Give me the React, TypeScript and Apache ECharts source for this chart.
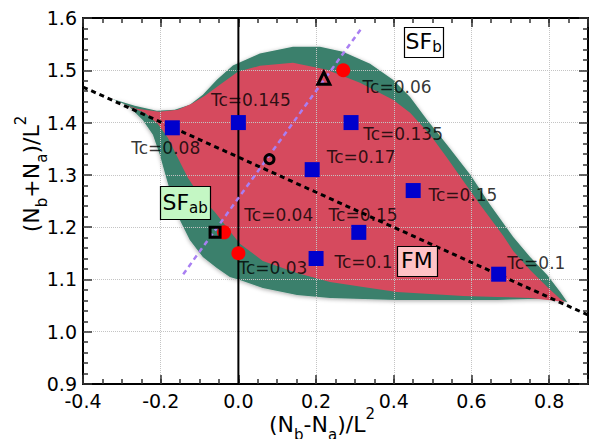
import React, { useEffect, useRef } from 'react';
import * as echarts from 'echarts';

const FONT = "'DejaVu Sans', Verdana, sans-serif";

// axis ranges
const xMin = -0.4;
const xMax = 0.9;
const yMin = 0.9;
const yMax = 1.6;

// blue squares (Tc points)
const squareX = [-0.17, 0.0, 0.29, 0.19, 0.45, 0.31, 0.2, 0.67];
const squareY = [1.39, 1.4, 1.4, 1.31, 1.27, 1.19, 1.14, 1.11];

// red circles
const circleX = [0.27, 0.0, -0.037];
const circleY = [1.5, 1.15, 1.19];

// open black markers
const openTriangle: [number, number][] = [[0.22, 1.485]];
const openCircle: [number, number][] = [[0.08, 1.33]];
const openSquare: [number, number][] = [[-0.06, 1.19]];

// reference lines
const dottedLine: [number, number][] = [[-0.4, 1.468], [0.9, 1.032]];
const purpleLine: [number, number][] = [[-0.142, 1.11], [0.3175, 1.581]];
const zeroLine: [number, number][] = [[0, 0.9], [0, 1.6]];

// SF (outer, green) region boundary
const sfBoundary: [number, number][] = [
  [-0.326, 1.4455], [-0.267, 1.432], [-0.21, 1.4225], [-0.164, 1.4245], [-0.125, 1.434],
  [-0.0915, 1.453], [-0.0554, 1.482], [-0.0142, 1.509], [0.0554, 1.532], [0.1405, 1.545],
  [0.21, 1.545], [0.269, 1.5355], [0.339, 1.5125], [0.398, 1.482], [0.442, 1.449],
  [0.486, 1.405], [0.537, 1.3575], [0.597, 1.3], [0.648, 1.2426], [0.7075, 1.181],
  [0.751, 1.143], [0.795, 1.1086], [0.8286, 1.076], [0.8466, 1.057],
  [0.803, 1.0627], [0.751, 1.0627], [0.666, 1.0608], [0.5786, 1.0608], [0.4936, 1.0608],
  [0.4085, 1.0608], [0.321, 1.0627], [0.236, 1.0646], [0.151, 1.0703], [0.063, 1.0837],
  [0.004, 1.099], [-0.022, 1.1048], [-0.0554, 1.122], [-0.0915, 1.143], [-0.125, 1.1756],
  [-0.151, 1.214], [-0.169, 1.252], [-0.184, 1.29], [-0.202, 1.338], [-0.22, 1.3766],
  [-0.246, 1.405], [-0.284, 1.432],
];

// FM (inner, red) region boundary
const fmBoundary: [number, number][] = [
  [-0.3, 1.436], [-0.2616, 1.4264], [-0.2036, 1.4206], [-0.156, 1.4245], [-0.12, 1.436],
  [-0.0863, 1.4513], [-0.0477, 1.4723], [-0.0013, 1.497], [0.0554, 1.5087], [0.1405, 1.5144],
  [0.228, 1.501], [0.313, 1.476], [0.398, 1.4436], [0.442, 1.4187], [0.4936, 1.3766],
  [0.537, 1.3326], [0.5786, 1.2885], [0.6224, 1.2426], [0.6817, 1.1833], [0.7075, 1.1545],
  [0.751, 1.118], [0.795, 1.0856], [0.8286, 1.0627], [0.8415, 1.057],
  [0.751, 1.0646], [0.666, 1.0665], [0.5786, 1.0684], [0.4936, 1.0722], [0.4085, 1.076],
  [0.321, 1.0856], [0.236, 1.0952], [0.151, 1.1124], [0.063, 1.1354], [0.004, 1.168],
  [-0.027, 1.197], [-0.0606, 1.2292], [-0.0992, 1.2598], [-0.13, 1.2943], [-0.156, 1.3326],
  [-0.1817, 1.3708], [-0.2075, 1.3976], [-0.241, 1.4187],
];

// Tc annotations (text and anchor in data coordinates)
const tcText = ['Tc=0.145', 'Tc=0.06', 'Tc=0.135', 'Tc=0.08', 'Tc=0.17', 'Tc=0.15', 'Tc=0.04', 'Tc=0.15', 'Tc=0.03', 'Tc=0.1', 'Tc=0.1'];
const tcTextX = [0.032, 0.4085, 0.424, -0.187, 0.316, 0.578, 0.104, 0.3209, 0.089, 0.322, 0.767];
const tcTextY = [1.444, 1.4685, 1.3785, 1.352, 1.3345, 1.262, 1.2225, 1.2225, 1.122, 1.1325, 1.131];

// phase boxes
const boxText = ['SF{sub|b}', 'SF{sub|ab}', 'FM'];
const boxX = [0.4768, -0.137, 0.4593];
const boxY = [1.5546, 1.2474, 1.1358];

// box styling (not data)
const BOX_FILL = ['#ffffff', '#c4f7c4', '#ffc2c6'];
const BOX_W = [39, 50, 40];
const BOX_H = [30, 33, 30];

const fmt = (v: number) => (Math.abs(v) < 1e-9 ? '0.0' : v.toFixed(1));

function polygonSeries(points: [number, number][], fill: string, extra: any) {
  return {
    type: 'custom',
    z: 1,
    silent: true,
    data: points,
    renderItem: (params: any, api: any) => {
      if (params.dataIndex !== 0) return null;
      const pts = points.map((p) => api.coord(p));
      return { type: 'polygon', shape: { points: pts }, style: { fill, ...extra } };
    },
  };
}

const tickStyle = { color: '#333', width: 1.5 };

function majorAxis(dim: 'x' | 'y', position: string, showLabel: boolean, showSplit: boolean) {
  const isX = dim === 'x';
  return {
    type: 'value',
    position,
    min: isX ? xMin : yMin,
    max: isX ? xMax : yMax,
    interval: isX ? 0.2 : 0.1,
    z: 3,
    axisLine: { show: true, onZero: false, lineStyle: { color: '#000', width: 2 } },
    axisTick: { show: true, inside: true, length: 9, lineStyle: tickStyle },
    minorTick: isX ? { show: false } : { show: true, splitNumber: 5, length: 5, lineStyle: tickStyle },
    axisLabel: {
      show: showLabel,
      fontSize: 19,
      fontFamily: FONT,
      color: '#000',
      margin: isX ? 7 : 6,
      showMaxLabel: isX ? false : true,
      formatter: fmt,
    },
    splitLine: { show: showSplit, lineStyle: { type: 'dotted', color: '#c4c4c4', width: 1 } },
  };
}

function minorXAxis(position: string) {
  return {
    type: 'value',
    position,
    min: xMin,
    max: xMax,
    interval: 0.05,
    z: 3,
    axisLine: { show: false, onZero: false },
    axisTick: { show: true, inside: true, length: 5, lineStyle: tickStyle },
    axisLabel: { show: false },
    splitLine: { show: false },
  };
}

export default function App() {
  const ref = useRef<HTMLDivElement>(null);

  useEffect(() => {
    document.body.style.margin = '0';
    const chart = echarts.init(ref.current as HTMLDivElement, null, { renderer: 'svg' });

    const subRich = {
      sub: { fontSize: 15, fontFamily: FONT, lineHeight: 16, verticalAlign: 'bottom' },
      sup: { fontSize: 15, fontFamily: FONT, lineHeight: 10, verticalAlign: 'top' },
    };

    const option: any = {
      animation: false,
      grid: { left: 83, right: 1, top: 18, bottom: 55, containLabel: false },
      xAxis: [majorAxis('x', 'bottom', true, true), minorXAxis('bottom'), majorAxis('x', 'top', false, false), minorXAxis('top')],
      yAxis: [majorAxis('y', 'left', true, true), majorAxis('y', 'right', false, false)],
      graphic: [
        {
          type: 'text',
          x: 322,
          y: 424,
          silent: true,
          style: {
            text: '(N{sub|b}-N{sub|a})/L{sup|2}',
            fontSize: 22,
            fontFamily: FONT,
            fill: '#000',
            lineHeight: 36,
            align: 'center',
            verticalAlign: 'middle',
            rich: subRich,
          },
        },
        {
          type: 'text',
          x: 31,
          y: 174,
          rotation: Math.PI / 2,
          silent: true,
          style: {
            text: '(N{sub|b}+N{sub|a})/L{sup|2}',
            fontSize: 22,
            fontFamily: FONT,
            fill: '#000',
            lineHeight: 36,
            align: 'center',
            verticalAlign: 'middle',
            rich: subRich,
          },
        },
      ],
      series: [
        polygonSeries(sfBoundary, '#3a806c', { shadowBlur: 4, shadowColor: 'rgba(0,0,0,0.35)', shadowOffsetY: 1 }),
        polygonSeries(fmBoundary, '#d64a5e', {}),
        {
          type: 'line',
          z: 4,
          silent: true,
          symbol: 'none',
          data: zeroLine,
          lineStyle: { color: '#000', width: 2 },
        },
        {
          type: 'line',
          z: 4,
          silent: true,
          symbol: 'none',
          data: purpleLine,
          lineStyle: { color: '#a97ff2', width: 2.5, type: [5, 4] },
        },
        {
          type: 'line',
          z: 4,
          silent: true,
          symbol: 'none',
          data: dottedLine,
          lineStyle: { color: '#000', width: 3, type: [5, 4] },
        },
        {
          type: 'scatter',
          z: 5,
          silent: true,
          symbol: 'rect',
          symbolSize: 15,
          itemStyle: { color: '#0000cd', opacity: 1 },
          data: squareX.map((x, i) => [x, squareY[i]]),
        },
        {
          type: 'scatter',
          z: 5,
          silent: true,
          symbol: 'circle',
          symbolSize: 14,
          itemStyle: { color: '#ff0000', opacity: 1 },
          data: circleX.map((x, i) => [x, circleY[i]]),
        },
        {
          type: 'scatter',
          z: 6,
          silent: true,
          symbol: 'triangle',
          symbolSize: 12,
          itemStyle: { color: 'rgba(0,0,0,0)', borderColor: '#000', borderWidth: 3, opacity: 1 },
          data: openTriangle,
        },
        {
          type: 'scatter',
          z: 6,
          silent: true,
          symbol: 'circle',
          symbolSize: 9,
          itemStyle: { color: 'rgba(0,0,0,0)', borderColor: '#000', borderWidth: 3, opacity: 1 },
          data: openCircle,
        },
        {
          type: 'scatter',
          z: 6,
          silent: true,
          symbol: 'rect',
          symbolSize: 10,
          itemStyle: { color: 'rgba(0,0,0,0)', borderColor: '#000', borderWidth: 3, opacity: 1 },
          data: openSquare,
        },
        {
          type: 'scatter',
          z: 7,
          silent: true,
          symbolSize: 1,
          itemStyle: { color: 'rgba(0,0,0,0)' },
          label: {
            show: true,
            position: 'inside',
            fontSize: 17,
            fontFamily: FONT,
            color: '#000',
            formatter: (p: any) => p.data.name,
          },
          data: tcText.map((t, i) => ({ name: t, value: [tcTextX[i], tcTextY[i]] })),
        },
        {
          type: 'custom',
          z: 8,
          silent: true,
          data: boxX.map((x, i) => [x, boxY[i]]),
          renderItem: (params: any, api: any) => {
            const i = params.dataIndex;
            const c = api.coord([api.value(0), api.value(1)]);
            const w = BOX_W[i];
            const h = BOX_H[i];
            return {
              type: 'group',
              children: [
                {
                  type: 'rect',
                  shape: { x: Math.round(c[0] - w / 2) + 0.5, y: Math.round(c[1] - h / 2) + 0.5, width: w, height: h },
                  style: { fill: BOX_FILL[i], stroke: '#000', lineWidth: 1.2 },
                },
                {
                  type: 'text',
                  style: {
                    text: boxText[i],
                    x: c[0],
                    y: c[1],
                    align: 'center',
                    verticalAlign: 'middle',
                    fontSize: 22,
                    fontFamily: FONT,
                    fill: '#000',
                    lineHeight: 26,
                    rich: {
                      sub: { fontSize: 15, fontFamily: FONT, lineHeight: 14, verticalAlign: 'bottom' },
                    },
                  },
                },
              ],
            };
          },
        },
      ],
    };

    chart.setOption(option);
    return () => chart.dispose();
  }, []);

  return <div ref={ref} style={{ width: 589, height: 439 }} />;
}
